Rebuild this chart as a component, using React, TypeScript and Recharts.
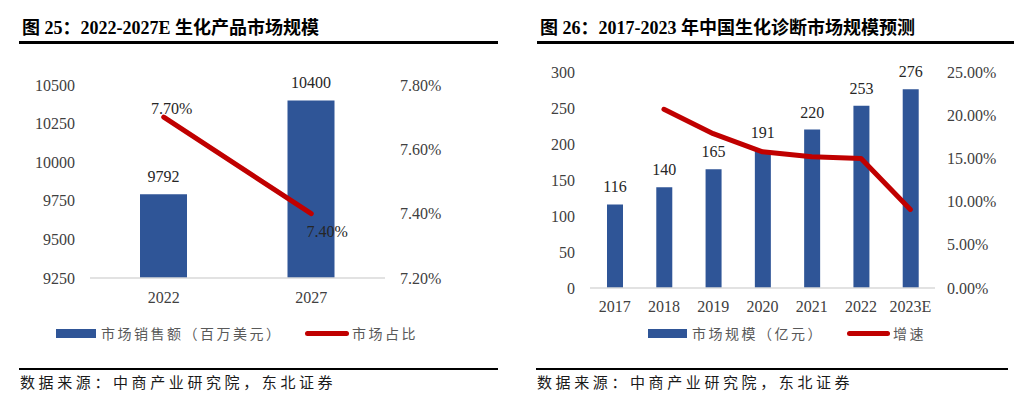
import {
  Bar,
  ComposedChart,
  LabelList,
  Line,
  XAxis,
  YAxis,
} from "recharts";

const BLUE = "#2F5597";
const RED = "#C00000";
const AXIS_TEXT = "#404040";
const SERIF = "'Liberation Serif', 'Times New Roman', 'Noto Sans CJK SC', serif";
const CJK = "'Noto Sans CJK SC', sans-serif";

// figure 25
const productYears = ["2022", "2027"];
const productSales = [9792, 10400];
const productShare = [7.7, 7.4];
const productLeftTicks = [9250, 9500, 9750, 10000, 10250, 10500];
const productRightTicks = [7.2, 7.4, 7.6, 7.8];

// figure 26
const diagYears = ["2017", "2018", "2019", "2020", "2021", "2022", "2023E"];
const diagSize = [116, 140, 165, 191, 220, 253, 276];
const diagGrowth = [null, 20.69, 17.86, 15.76, 15.18, 15.0, 9.09];
const diagLeftTicks = [0, 50, 100, 150, 200, 250, 300];
const diagRightTicks = [0, 5, 10, 15, 20, 25];

const productData = productYears.map((year, i) => ({
  year,
  sales: productSales[i],
  share: productShare[i],
}));

const diagData = diagYears.map((year, i) => ({
  year,
  size: diagSize[i],
  growth: diagGrowth[i],
}));

const tick = { fontSize: 16, fill: AXIS_TEXT, fontFamily: SERIF };

function ShareLabel(props: any) {
  const { x, y, value, index } = props;
  const dx = index === 0 ? 8 : 16;
  const dy = index === 0 ? -9 : 18;
  return (
    <text
      x={x + dx}
      y={y + dy}
      textAnchor="middle"
      dominantBaseline="central"
      fontSize={16}
      fontFamily={SERIF}
      fill="#262626"
    >
      {`${Number(value).toFixed(2)}%`}
    </text>
  );
}

function Title({ left, text }: { left: number; text: string }) {
  return (
    <div
      style={{
        position: "absolute",
        left,
        top: 17,
        fontFamily: SERIF,
        fontWeight: 700,
        fontSize: 18,
        lineHeight: "22px",
        color: "#000",
        whiteSpace: "nowrap",
      }}
    >
      {text}
    </div>
  );
}

function Rule({ left, right, top, h }: { left: number; right: number; top: number; h: number }) {
  return (
    <div
      style={{
        position: "absolute",
        left,
        top,
        width: right - left,
        height: h,
        background: "#000",
      }}
    />
  );
}

function Footer({ left }: { left: number }) {
  return (
    <div
      style={{
        position: "absolute",
        left,
        top: 372,
        fontFamily: CJK,
        fontSize: 15,
        lineHeight: "20px",
        letterSpacing: 3.6,
        color: "#1a1a1a",
        whiteSpace: "nowrap",
      }}
    >
      数据来源：中商产业研究院，东北证券
    </div>
  );
}

function LegendItem({
  left,
  kind,
  label,
  width,
}: {
  left: number;
  kind: "bar" | "line";
  label: string;
  width: number;
}) {
  return (
    <div
      style={{
        position: "absolute",
        left,
        top: 323,
        height: 20,
        display: "flex",
        alignItems: "center",
        fontFamily: CJK,
        fontSize: 14,
        letterSpacing: 2.5,
        color: "#595959",
        whiteSpace: "nowrap",
      }}
    >
      {kind === "bar" ? (
        <span style={{ width, height: 9, background: BLUE, marginRight: 5 }} />
      ) : (
        <span
          style={{ width, height: 5, background: RED, borderRadius: 3, marginRight: 3 }}
        />
      )}
      {label}
    </div>
  );
}

function ProductChart() {
  return (
    <ComposedChart
      width={520}
      height={320}
      data={productData}
      margin={{ top: 85, right: 35, bottom: 12, left: 0 }}
    >
      <XAxis
        dataKey="year"
        height={30}
        tick={tick}
        tickLine={false}
        tickSize={0}
        tickMargin={14}
        axisLine={{ stroke: "#D9D9D9", strokeWidth: 1.5 }}
      />
      <YAxis
        yAxisId="left"
        width={90}
        domain={[9250, 10500]}
        ticks={productLeftTicks}
        tick={tick}
        tickLine={false}
        tickSize={0}
        tickMargin={15}
        axisLine={false}
      />
      <YAxis
        yAxisId="right"
        orientation="right"
        width={100}
        domain={[7.2, 7.8]}
        ticks={productRightTicks}
        tickFormatter={(v: number) => `${v.toFixed(2)}%`}
        tick={tick}
        tickLine={false}
        tickSize={0}
        tickMargin={15}
        axisLine={false}
      />
      <Bar yAxisId="left" dataKey="sales" fill={BLUE} barSize={47} isAnimationActive={false}>
        <LabelList
          dataKey="sales"
          position="top"
          offset={12}
          style={{ fontSize: 16, fontFamily: SERIF, fill: "#262626" }}
        />
      </Bar>
      <Line
        yAxisId="right"
        dataKey="share"
        stroke={RED}
        strokeWidth={5}
        strokeLinecap="round"
        dot={false}
        isAnimationActive={false}
      >
        <LabelList dataKey="share" content={<ShareLabel />} />
      </Line>
    </ComposedChart>
  );
}

function DiagChart() {
  return (
    <ComposedChart
      width={509}
      height={320}
      data={diagData}
      margin={{ top: 72, right: 14, bottom: 2, left: 0 }}
    >
      <XAxis
        dataKey="year"
        height={30}
        tick={tick}
        tickLine={false}
        tickSize={0}
        tickMargin={13}
        interval={0}
        axisLine={{ stroke: "#D9D9D9", strokeWidth: 1.5 }}
      />
      <YAxis
        yAxisId="left"
        width={70}
        domain={[0, 300]}
        ticks={diagLeftTicks}
        tick={tick}
        tickLine={false}
        tickSize={0}
        tickMargin={15}
        axisLine={false}
      />
      <YAxis
        yAxisId="right"
        orientation="right"
        width={80}
        domain={[0, 25]}
        ticks={diagRightTicks}
        tickFormatter={(v: number) => `${v.toFixed(2)}%`}
        tick={tick}
        tickLine={false}
        tickSize={0}
        tickMargin={12}
        axisLine={false}
      />
      <Bar yAxisId="left" dataKey="size" fill={BLUE} barSize={16} isAnimationActive={false}>
        <LabelList
          dataKey="size"
          position="top"
          offset={12}
          style={{ fontSize: 16, fontFamily: SERIF, fill: "#262626" }}
        />
      </Bar>
      <Line
        yAxisId="right"
        dataKey="growth"
        stroke={RED}
        strokeWidth={5}
        strokeLinecap="round"
        strokeLinejoin="round"
        dot={false}
        isAnimationActive={false}
      />
    </ComposedChart>
  );
}

export default function App() {
  return (
    <div
      style={{
        position: "absolute",
        left: 0,
        top: 0,
        width: 1029,
        height: 397,
        background: "#fff",
        overflow: "hidden",
      }}
    >
      <Title left={22} text="图 25：2022-2027E 生化产品市场规模" />
      <Rule left={19} right={498} top={41} h={2.5} />
      <div style={{ position: "absolute", left: 0, top: 0 }}>
        <ProductChart />
      </div>
      <LegendItem left={56} kind="bar" width={40} label="市场销售额（百万美元）" />
      <LegendItem left={305} kind="line" width={44} label="市场占比" />
      <Rule left={19} right={498} top={368} h={1.5} />
      <Footer left={20} />

      <Title left={540} text="图 26：2017-2023 年中国生化诊断市场规模预测" />
      <Rule left={537} right={1014} top={41} h={2.5} />
      <div style={{ position: "absolute", left: 520, top: 0 }}>
        <DiagChart />
      </div>
      <LegendItem left={648} kind="bar" width={39} label="市场规模（亿元）" />
      <LegendItem left={847} kind="line" width={43} label="增速" />
      <Rule left={536} right={1008} top={368} h={1.5} />
      <Footer left={537} />
    </div>
  );
}
